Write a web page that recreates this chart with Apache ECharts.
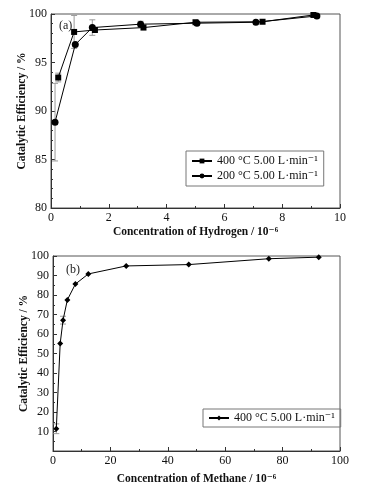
<!DOCTYPE html>
<html>
<head>
<meta charset="utf-8">
<script src="https://cdn.jsdelivr.net/npm/echarts@6/dist/echarts.min.js"></script>
<style>
  html, body { margin: 0; padding: 0; background: #fff; }
  #chart { width: 368px; height: 487px; }
</style>
</head>
<body>
<div id="chart"></div>
<script>
// (a) hydrogen
var h400X = [0.25, 0.8, 1.52, 3.2, 5.0, 7.32, 9.08];
var h400Y = [93.45, 98.15, 98.35, 98.6, 99.15, 99.2, 99.9];
var h400Err = [0.45, 1.7, 0, 0, 0, 0, 0];
var h200X = [0.14, 0.84, 1.43, 3.1, 5.05, 7.09, 9.2];
var h200Y = [88.85, 96.85, 98.6, 98.95, 99.05, 99.15, 99.8];
var h200Err = [4.0, 0, 0.8, 0.3, 0, 0, 0];
// (b) methane
var mX = [1.15, 2.5, 3.5, 5.0, 7.8, 12.3, 25.5, 47.3, 75.2, 92.6];
var mY = [11.4, 55.1, 67.1, 77.5, 85.6, 90.8, 94.9, 95.6, 98.6, 99.4];
var mErr = [2.5, 0, 2, 0, 0, 0, 0, 0, 0, 0];

var legendText = {
  h400: '400 °C 5.00 L·min⁻¹',
  h200: '200 °C 5.00 L·min⁻¹',
  m400: '400 °C 5.00 L·min⁻¹'
};

var FONT = '"Liberation Serif", "DejaVu Serif", serif';

function pairs(xs, ys) {
  return xs.map(function (x, i) { return [x, ys[i]]; });
}
function errs(xs, ys, es) {
  var out = [];
  xs.forEach(function (x, i) {
    if (es[i] > 0) out.push([x, ys[i] - es[i], ys[i] + es[i]]);
  });
  return out;
}

function errRender(params, api) {
  var lo = api.coord([api.value(0), api.value(1)]);
  var hi = api.coord([api.value(0), api.value(2)]);
  var w = 3;
  var st = { stroke: '#9a9a9a', lineWidth: 1 };
  return {
    type: 'group',
    children: [
      { type: 'line', shape: { x1: lo[0], y1: lo[1], x2: hi[0], y2: hi[1] }, style: st },
      { type: 'line', shape: { x1: lo[0] - w, y1: lo[1], x2: lo[0] + w, y2: lo[1] }, style: st },
      { type: 'line', shape: { x1: hi[0] - w, y1: hi[1], x2: hi[0] + w, y2: hi[1] }, style: st }
    ]
  };
}

function xAx(idx, max, interval, title, gap) {
  return {
    type: 'value', gridIndex: idx, min: 0, max: max, interval: interval,
    name: title, nameLocation: 'middle', nameGap: gap,
    nameTextStyle: { fontFamily: FONT, fontWeight: 'bold', fontSize: 11.5, color: '#111' },
    axisLine: { lineStyle: { color: '#333' } },
    axisTick: { inside: true, length: 4, lineStyle: { color: '#333' } },
    minorTick: { show: true, splitNumber: 2, length: 2, lineStyle: { color: '#333' } },
    axisLabel: { fontFamily: FONT, fontSize: 12, color: '#111', margin: 4 },
    splitLine: { show: false }
  };
}
function yAx(idx, min, max, interval, minorSplit, hideZero) {
  return {
    type: 'value', gridIndex: idx, min: min, max: max, interval: interval,
    name: 'Catalytic Efficiency / %', nameLocation: 'middle', nameGap: 23,
    nameMoveOverlap: false,
    nameTextStyle: { fontFamily: FONT, fontWeight: 'bold', fontSize: 11.5, color: '#111' },
    axisLine: { lineStyle: { color: '#333' } },
    axisTick: { inside: true, length: 4, lineStyle: { color: '#333' } },
    minorTick: { show: true, splitNumber: minorSplit, length: 2, lineStyle: { color: '#333' } },
    axisLabel: {
      fontFamily: FONT, fontSize: 12, color: '#111', margin: 4,
      formatter: function (v) { return (hideZero && v === 0) ? '' : v; }
    },
    splitLine: { show: false }
  };
}

var legendBase = {
  orient: 'vertical', itemWidth: 20, itemHeight: 6, itemGap: 3,
  borderColor: '#777', borderWidth: 1, borderRadius: 0,
  textStyle: { fontFamily: FONT, fontSize: 12, color: '#111' },
  formatter: function (n) { return legendText[n]; }
};

var chart = echarts.init(document.getElementById('chart'));
chart.setOption({
  animation: false,
  backgroundColor: '#fff',
  title: [
    { text: '(a)', left: 54, top: 15, textStyle: { fontFamily: FONT, fontSize: 12, fontWeight: 'normal', color: '#222' } },
    { text: '(b)', left: 61, top: 259, textStyle: { fontFamily: FONT, fontSize: 12, fontWeight: 'normal', color: '#222' } }
  ],
  grid: [
    { left: 51, right: 28, top: 14, height: 194, show: true, borderColor: '#555', borderWidth: 1 },
    { left: 53, right: 28, top: 256, height: 195, show: true, borderColor: '#555', borderWidth: 1 }
  ],
  legend: [
    Object.assign({}, legendBase, { data: ['h400', 'h200'], left: 186, top: 151, padding: [4, 6, 4, 5] }),
    Object.assign({}, legendBase, { data: ['m400'], left: 203, top: 409, padding: [3, 6, 3, 5] })
  ],
  xAxis: [
    xAx(0, 10, 2, 'Concentration of Hydrogen / 10⁻⁶', 18),
    xAx(1, 100, 20, 'Concentration of Methane / 10⁻⁶', 22)
  ],
  yAxis: [
    yAx(0, 80, 100, 5, 5, false),
    yAx(1, 0, 100, 10, 2, true)
  ],
  series: [
    { type: 'custom', xAxisIndex: 0, yAxisIndex: 0, renderItem: errRender, data: errs(h400X, h400Y, h400Err), z: 1 },
    { type: 'custom', xAxisIndex: 0, yAxisIndex: 0, renderItem: errRender, data: errs(h200X, h200Y, h200Err), z: 1 },
    { type: 'custom', xAxisIndex: 1, yAxisIndex: 1, renderItem: errRender, data: errs(mX, mY, mErr), z: 1 },
    {
      name: 'h400', type: 'line', xAxisIndex: 0, yAxisIndex: 0, data: pairs(h400X, h400Y),
      symbol: 'rect', symbolSize: 6, showAllSymbol: true,
      lineStyle: { color: '#000', width: 1 }, itemStyle: { color: '#000' }, z: 3
    },
    {
      name: 'h200', type: 'line', xAxisIndex: 0, yAxisIndex: 0, data: pairs(h200X, h200Y),
      symbol: 'circle', symbolSize: 7, showAllSymbol: true,
      lineStyle: { color: '#000', width: 1 }, itemStyle: { color: '#000' }, z: 3
    },
    {
      name: 'm400', type: 'line', xAxisIndex: 1, yAxisIndex: 1, data: pairs(mX, mY),
      symbol: 'diamond', symbolSize: 6, showAllSymbol: true,
      lineStyle: { color: '#000', width: 1 }, itemStyle: { color: '#000' }, z: 3
    }
  ]
});
</script>
</body>
</html>
